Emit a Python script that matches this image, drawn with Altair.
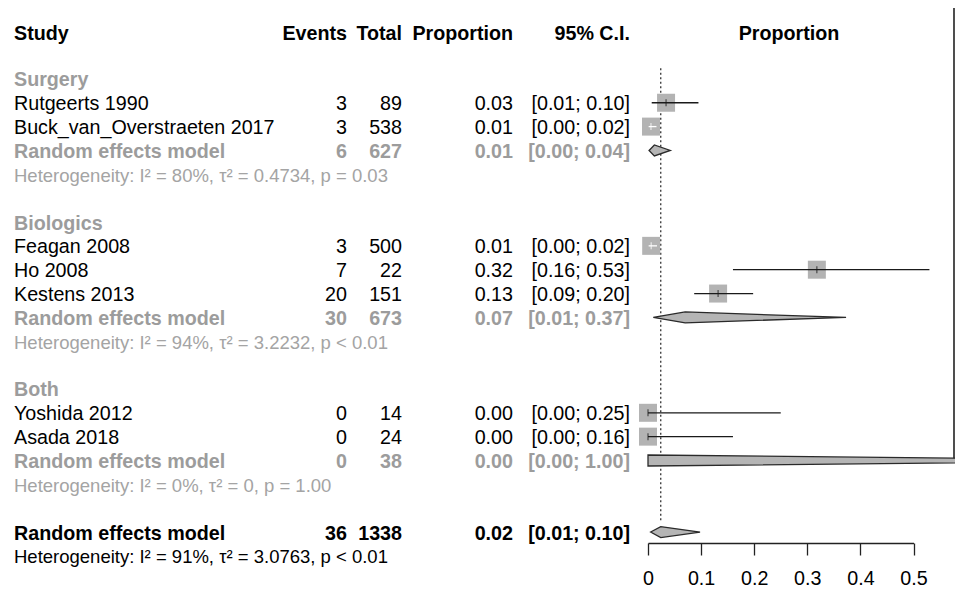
import altair as alt
import pandas as pd

# ---------------- data ----------------
study_names = ["Rutgeerts 1990", "Buck_van_Overstraeten 2017", "Feagan 2008", "Ho 2008",
               "Kestens 2013", "Yoshida 2012", "Asada 2018"]
study_group = ["Surgery", "Surgery", "Biologics", "Biologics", "Biologics", "Both", "Both"]
study_events = [3, 3, 3, 7, 20, 0, 0]
study_total = [89, 538, 500, 22, 151, 14, 24]
study_prop = [0.034, 0.0056, 0.006, 0.318, 0.132, 0.0, 0.0]
study_lower = [0.007, 0.0012, 0.0012, 0.16, 0.087, 0.0, 0.0]
study_upper = [0.095, 0.016, 0.017, 0.53, 0.198, 0.25, 0.16]
study_prop_label = ["0.03", "0.01", "0.01", "0.32", "0.13", "0.00", "0.00"]
study_ci_label = ["[0.01; 0.10]", "[0.00; 0.02]", "[0.00; 0.02]", "[0.16; 0.53]",
                  "[0.09; 0.20]", "[0.00; 0.25]", "[0.00; 0.16]"]

group_names = ["Surgery", "Biologics", "Both"]
group_events = [6, 30, 0]
group_total = [627, 673, 38]
group_prop = [0.012, 0.07, 0.0]
group_lower = [0.002, 0.01, 0.0]
group_upper = [0.042, 0.373, 1.0]
group_prop_label = ["0.01", "0.07", "0.00"]
group_ci_label = ["[0.00; 0.04]", "[0.01; 0.37]", "[0.00; 1.00]"]
group_het = ["Heterogeneity: I² = 80%, τ² = 0.4734, p = 0.03",
             "Heterogeneity: I² = 94%, τ² = 3.2232, p < 0.01",
             "Heterogeneity: I² = 0%, τ² = 0, p = 1.00"]

model_label = "Random effects model"
overall_events = 36
overall_total = 1338
overall_prop = 0.024
overall_lower = 0.005
overall_upper = 0.098
overall_prop_label = "0.02"
overall_ci_label = "[0.01; 0.10]"
overall_het = "Heterogeneity: I² = 91%, τ² = 3.0763, p < 0.01"

header_labels = ["Study", "Events", "Total", "Proportion", "95% C.I."]
forest_title = "Proportion"
axis_ticks = [0, 0.1, 0.2, 0.3, 0.4, 0.5]

# ---------------- layout / style ----------------
FONT = "Liberation Sans"
FS = 19.7
FS_HET = 18.5
GRAY_TXT = "#9c9c9c"
BOX = "#b3b3b3"
PX_PER_UNIT = (905.5 - 640) / 0.5
BOX_PX = 18
DIAMOND_HALF = 0.23  # in row units
TXT_DY = 1.5

# ---------------- build tables ----------------
text_rows = [dict(row=0, study=header_labels[0], events=header_labels[1], total=header_labels[2],
                  prop=header_labels[3], ci=header_labels[4], kind="header")]
boxes = []
diamonds = []
row = 2
for gi, g in enumerate(group_names):
    text_rows.append(dict(row=row, study=g, events="", total="", prop="", ci="", kind="group"))
    row += 1
    for i, s in enumerate(study_names):
        if study_group[i] != g:
            continue
        text_rows.append(dict(row=row, study=s, events=str(study_events[i]), total=str(study_total[i]),
                              prop=study_prop_label[i], ci=study_ci_label[i], kind="study"))
        inside = (study_upper[i] - study_lower[i]) * PX_PER_UNIT < BOX_PX
        boxes.append(dict(row=row, prop=study_prop[i], lower=study_lower[i], upper=study_upper[i],
                          lc="white" if inside else "#1a1a1a"))
        row += 1
    text_rows.append(dict(row=row, study=model_label, events=str(group_events[gi]), total=str(group_total[gi]),
                          prop=group_prop_label[gi], ci=group_ci_label[gi], kind="rem"))
    pts = []
    if group_lower[gi] < group_prop[gi]:
        pts.append((group_lower[gi], row, row))
    pts.append((group_prop[gi], row - DIAMOND_HALF, row + DIAMOND_HALF))
    pts.append((group_upper[gi], row, row))
    for x, a, b in pts:
        diamonds.append(dict(name=g, x=x, ya=a, yb=b))
    row += 1
    text_rows.append(dict(row=row, study=group_het[gi], events="", total="", prop="", ci="", kind="het"))
    row += 2

text_rows.append(dict(row=row, study=model_label, events=str(overall_events), total=str(overall_total),
                      prop=overall_prop_label, ci=overall_ci_label, kind="overall"))
for x, a, b in [(overall_lower, row, row), (overall_prop, row - DIAMOND_HALF, row + DIAMOND_HALF),
                (overall_upper, row, row)]:
    diamonds.append(dict(name="overall", x=x, ya=a, yb=b))
overall_row = row
row += 1
text_rows.append(dict(row=row, study=overall_het, events="", total="", prop="", ci="", kind="ohet"))
last_row = row

txt = pd.DataFrame(text_rows)
box_df = pd.DataFrame(boxes)
dia_df = pd.DataFrame(diamonds)

kind_dom = ["header", "group", "study", "rem", "het", "overall", "ohet"]
kind_col = ["black", GRAY_TXT, "black", GRAY_TXT, "#a4a4a4", "black", "black"]
color_enc = alt.Color("kind:N", scale=alt.Scale(domain=kind_dom, range=kind_col), legend=None)

xscale = alt.Scale(domain=[0, 0.5], range=[640, 905.5], nice=False, zero=False)
yscale = alt.Scale(domain=[0, last_row], range=[23.2, 23.2 + 23.85 * last_row], nice=False, zero=False)
Y = alt.Y("row:Q", scale=yscale, axis=None)
AX = alt.Axis(values=axis_ticks, title=None, grid=False, tickSize=12, labelFontSize=FS,
              labelFont=FONT, labelColor="black", domainColor="#222222", tickColor="#222222",
              domainWidth=1.3, tickWidth=1.3, labelPadding=13, format="~g",
              labelFlush=False, labelOverlap=False)

bold_kinds = ["group", "rem", "overall"]
reg_kinds = ["study"]
het_kinds = ["het", "ohet"]

def text_layer(field, xpos, align, kinds, bold, fs=FS, dy=TXT_DY):
    return alt.Chart(txt).transform_filter(
        alt.FieldOneOfPredicate(field="kind", oneOf=kinds)
    ).mark_text(align=align, baseline="middle", font=FONT, fontSize=fs, dy=dy,
                fontWeight="bold" if bold else "normal").encode(
        x=alt.value(xpos), y=Y, text=f"{field}:N", color=color_enc)

layers = []
for bold, kinds, dy in [(True, ["header"], 3), (True, bold_kinds, TXT_DY), (False, reg_kinds, TXT_DY)]:
    layers.append(text_layer("study", 6, "left", kinds, bold, dy=dy))
    layers.append(text_layer("events", 339, "right", kinds, bold, dy=dy))
    layers.append(text_layer("total", 394, "right", kinds, bold, dy=dy))
    layers.append(text_layer("prop", 505, "right", kinds, bold, dy=dy))
    layers.append(text_layer("ci", 622, "right", kinds, bold, dy=dy))
layers.append(text_layer("study", 6, "left", het_kinds, False, FS_HET))

title_layer = alt.Chart(pd.DataFrame({"t": [forest_title], "row": [0]})).mark_text(
    align="center", baseline="middle", font=FONT, fontSize=FS, fontWeight="bold", color="black", dy=3
).encode(x=alt.value(781), y=Y, text="t:N")

ref_line = alt.Chart(pd.DataFrame({"v": [overall_prop]})).mark_rule(
    color="#333333", strokeWidth=1.3, strokeDash=[2, 2.5]
).encode(x=alt.X("v:Q", scale=xscale, axis=AX),
         y=alt.Y(datum=1.55, type="quantitative", scale=yscale, axis=None),
         y2=alt.Y2(datum=overall_row - 0.4))

border = alt.Chart(pd.DataFrame({"v": [0]})).mark_rule(color="#222222", strokeWidth=1.6).encode(
    x=alt.value(946),
    y=alt.Y(datum=-1.5, type="quantitative", scale=yscale, axis=None),
    y2=alt.Y2(datum=18))

squares = alt.Chart(box_df).mark_square(size=BOX_PX * BOX_PX, color=BOX, opacity=1).encode(
    x=alt.X("prop:Q", scale=xscale, axis=AX), y=Y)

ci_lines = alt.Chart(box_df).mark_rule(strokeWidth=1.3).encode(
    x=alt.X("lower:Q", scale=xscale, axis=AX), x2="upper:Q", y=Y,
    color=alt.Color("lc:N", scale=None))

est_ticks = alt.Chart(box_df).mark_tick(orient="vertical", size=7, thickness=1.2).encode(
    x=alt.X("prop:Q", scale=xscale, axis=AX), y=Y, color=alt.Color("lc:N", scale=None))

diamond_layer = alt.Chart(dia_df).mark_area(
    orient="vertical", fill="#b5b5b5", stroke="#2a2a2a", strokeWidth=1.3, opacity=1
).encode(
    x=alt.X("x:Q", scale=xscale, axis=AX),
    y=alt.Y("ya:Q", scale=yscale, axis=None, stack=None),
    y2="yb:Q",
    detail="name:N")

chart = alt.layer(
    ref_line, border, squares, ci_lines, est_ticks, diamond_layer, title_layer, *layers
).properties(
    width=947, height=535,
    padding={"left": 0, "top": 0, "right": 0, "bottom": 49},
    autosize=alt.AutoSizeParams(type="none"),
    background="white",
).configure_view(stroke=None)

chart.save("out.html", embed_options={"renderer": "svg", "actions": False})
